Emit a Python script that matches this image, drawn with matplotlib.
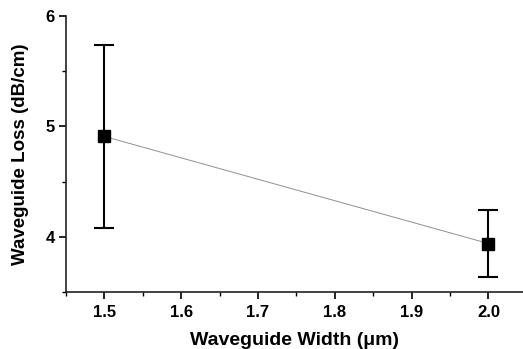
import matplotlib
matplotlib.use("Agg")
import matplotlib.pyplot as plt
from matplotlib.ticker import MultipleLocator

# waveguide width (um) vs loss (dB/cm)
widths = [1.5, 2.0]
loss = [4.91, 3.94]
loss_err = [0.83, 0.30]

plt.rcParams['font.family'] = ['Liberation Sans', 'DejaVu Sans']
plt.rcParams['font.weight'] = 'bold'

fig = plt.figure(figsize=(5.23, 3.49), dpi=100)
ax = fig.add_axes([0.126, 0.163, 0.874, 0.791])

ax.plot(widths, loss, color='#909090', linewidth=0.7, zorder=1)
ax.errorbar(widths, loss, yerr=loss_err, fmt='s', color='black', markersize=8,
            elinewidth=1.5, capsize=7, capthick=1.5, zorder=2)

ax.set_xlim(1.45, 2.045)
ax.set_ylim(3.5, 6.0)
ax.xaxis.set_major_locator(MultipleLocator(0.1))
ax.xaxis.set_minor_locator(MultipleLocator(0.05))
ax.yaxis.set_major_locator(MultipleLocator(1))
ax.yaxis.set_minor_locator(MultipleLocator(0.5))
ax.xaxis.set_major_formatter(matplotlib.ticker.FormatStrFormatter('%.1f'))

for s in ['top', 'right']:
    ax.spines[s].set_visible(False)
for s in ['left', 'bottom']:
    ax.spines[s].set_linewidth(1.2)
    ax.spines[s].set_color('#222222')

ax.tick_params(which='major', direction='out', length=5, width=1.2, labelsize=12, pad=3)
ax.tick_params(axis='x', which='major', pad=4)
ax.tick_params(which='minor', direction='out', length=3, width=1.0)

ax.set_xlabel('Waveguide Width (μm)', fontsize=14, fontweight='bold', labelpad=9)
ax.set_ylabel('Waveguide Loss (dB/cm)', fontsize=13.5, fontweight='bold', labelpad=12)

fig.savefig('out.png', dpi=100)
